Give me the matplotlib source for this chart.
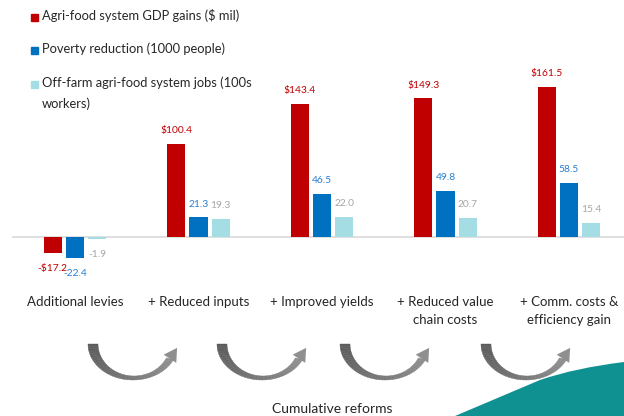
import numpy as np
import matplotlib
matplotlib.use('Agg')
import matplotlib.pyplot as plt
from matplotlib.patches import Rectangle, Polygon
from matplotlib.collections import PolyCollection
from matplotlib.path import Path
from matplotlib.patches import PathPatch

# Chart data
categories = ['Additional levies', '+ Reduced inputs', '+ Improved yields',
              '+ Reduced value\nchain costs', '+ Comm. costs &\nefficiency gain']
gdp_gains = [-17.2, 100.4, 143.4, 149.3, 161.5]
poverty = [-22.4, 21.3, 46.5, 49.8, 58.5]
jobs = [-1.9, 19.3, 22.0, 20.7, 15.4]
series_names = ['Agri-food system GDP gains ($ mil)',
                'Poverty reduction (1000 people)',
                'Off-farm agri-food system jobs (100s\nworkers)']

RED = '#c00000'
BLUE = '#0070c0'
LIGHT = '#a5dde4'
FONT = 'Lato'

plt.rcParams['font.family'] = [FONT, 'DejaVu Sans']

W, H = 624, 416
fig = plt.figure(figsize=(W / 100, H / 100), dpi=100)

# main axes covers whole figure; scales chosen to match the layout
ax = fig.add_axes([0, 0, 1, 1])
ax.axis('off')
px_per_cat = 123.5
x0_px = 75
base_px = 237
px_per_unit = 0.929
ax.set_xlim(-x0_px / px_per_cat, (W - x0_px) / px_per_cat)
ax.set_ylim((base_px - H) / px_per_unit, base_px / px_per_unit)

x = np.arange(len(categories))
bw = 0.146
off = 0.18
ax.axhline(0, xmin=13 / W, xmax=1, color='#d9d9d9', lw=1.2, zorder=1)

series = [(gdp_gains, RED, RED, lambda v: ('-$%.1f' % abs(v)) if v < 0 else '$%.1f' % v),
          (poverty, BLUE, '#2a7fd0', lambda v: '%.1f' % v),
          (jobs, LIGHT, '#a6a6a6', lambda v: '%.1f' % v)]

for k, (vals, col, lcol, fmt) in enumerate(series):
    xs = x + (k - 1) * off
    ax.bar(xs, vals, bw, color=col, zorder=2)
    for xi, v in zip(xs, vals):
        dy = 9.5 if v >= 0 else -11
        ax.annotate(fmt(v), (xi, v), xytext=(0, dy), textcoords='offset points',
                    ha='center', va='center', fontsize=7.4, color=lcol)

# category labels
for xi, lab in zip(x, categories):
    ax.text(xi, 1 - 296 / H, lab, transform=ax.get_xaxis_transform(),
            ha='center', va='top', fontsize=9.5, color='#262626', linespacing=1.55)

# decoration layer in pixel coordinates
deco = fig.add_axes([0, 0, 1, 1], zorder=-1)
deco.set_xlim(0, W)
deco.set_ylim(H, 0)
deco.axis('off')

# legend
leg_y = [17.5, 50.5, 84.5]
for (vals, col, lcol, fmt), name, yy in zip(series, series_names, leg_y):
    deco.add_patch(Rectangle((31, yy - 3.5), 7, 7, color=col))
    deco.text(42, yy - 8.5, name, ha='left', va='top', fontsize=9.3, color='#262626',
              linespacing=1.85)

# curved arrows
def curved_arrow(left):
    cx, cy = left + 45, 344
    ts = np.linspace(np.pi, np.pi / 7, 40)
    outer = np.c_[cx + 45 * np.cos(ts), cy + 36 * np.sin(ts)]
    inner = np.c_[cx + 1 + 36 * np.cos(ts), cy + 32 * np.sin(ts)]
    quads, cols = [], []
    for i in range(len(ts) - 1):
        quads.append([outer[i], outer[i + 1], inner[i + 1], inner[i]])
        f = i / (len(ts) - 2)
        g = 0.36 + 0.2 * f
        cols.append((g, g, g))
    deco.add_collection(PolyCollection(quads, facecolors=cols, edgecolors=cols, lw=0.3))
    m = (outer[-1] + inner[-1]) / 2
    d = outer[-1] - outer[-2]
    d = d / np.hypot(*d)
    n = np.array([-d[1], d[0]])
    head = [m + n * 7.5, m + d * 13, m - n * 7.5]
    deco.add_patch(Polygon(head, closed=True, color=(0.56, 0.56, 0.56), lw=0))

for left in [88, 217, 340, 481]:
    curved_arrow(left)

# teal wave
verts = [(455, 416), (540, 380), (575, 368), (624, 362), (624, 416), (455, 416)]
codes = [Path.MOVETO, Path.LINETO, Path.CURVE3, Path.CURVE3, Path.LINETO, Path.CLOSEPOLY]
deco.add_patch(PathPatch(Path(verts, codes), facecolor='#0f9191', edgecolor='none'))

fig.text(332 / W, 1 - 409 / H, 'Cumulative reforms', ha='center', va='center',
         fontsize=10, color='#262626')

fig.savefig('out.png', dpi=100)
